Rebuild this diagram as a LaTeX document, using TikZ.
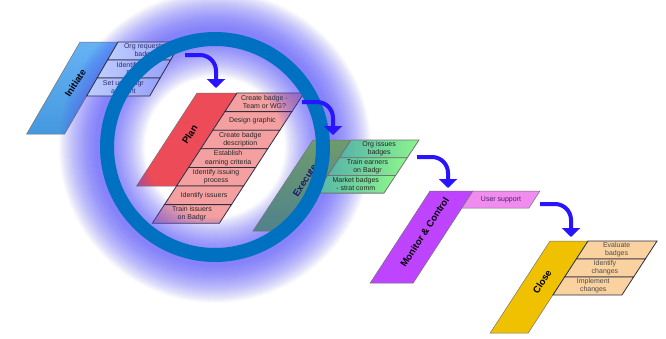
\documentclass[tikz,border=0pt]{standalone}
\usepackage{fontspec}
\setmainfont{Liberation Sans}
\usetikzlibrary{arrows.meta}

\definecolor{iniBig}{RGB}{75,165,242}
\definecolor{iniRowA}{RGB}{190,205,255}
\definecolor{iniRowB}{RGB}{150,160,250}
\definecolor{planBig}{RGB}{238,75,88}
\definecolor{planRow}{RGB}{245,160,160}
\definecolor{exeTop}{RGB}{110,155,110}
\definecolor{exeBot}{RGB}{80,130,140}
\definecolor{exeRowA}{RGB}{85,180,170}
\definecolor{exeRowB}{RGB}{140,245,140}
\definecolor{monBig}{RGB}{190,68,255}
\definecolor{monRow}{RGB}{240,140,240}
\definecolor{cloBig}{RGB}{240,193,0}
\definecolor{cloRow}{RGB}{250,210,160}
\definecolor{glowc}{RGB}{85,80,250}
\definecolor{ringc}{RGB}{0,112,192}
\definecolor{flowc}{RGB}{40,20,255}
\definecolor{edgec}{RGB}{45,45,65}

% parallelogram: name, x, y (top-left), width, height, slant, fill style, text style, text
\newcommand\parabox[9]{%
  \path[#7] (#2,#3) -- ++(#4,0) -- ++({-(#6)*(#5)},#5) -- ++({-(#4)},0) -- cycle;
  \node[#8] (#1) at ({#2+(#4)/2-(#6)*(#5)/2},{#3+(#5)/2}) {#9};
}

\begin{document}
\begin{tikzpicture}[x=1pt,y=-1pt,
  bigbox/.style={draw=black!55,line width=0.5pt},
  rowbox/.style={draw=edgec,line width=0.8pt},
  rowtext/.style={font=\fontsize{7}{8.3}\selectfont,align=center,inner sep=0pt},
  bigtext/.style={font=\fontsize{9.5}{11}\selectfont\bfseries,inner sep=0pt,
    xshift=3pt,yshift=5pt,rotate=57},
  flow/.style={draw=flowc,line width=4pt,rounded corners=16pt,
    -{Triangle[width=18pt,length=9pt]}}]
\useasboundingbox (0,0) rectangle (666,338);
\fill[white] (0,0) rectangle (666,338);

% Initiate
\parabox{ini}{80}{42}{38}{92}{0.58}{bigbox,top color=iniBig!85!white,bottom color=iniBig!92!black}{bigtext}{Initiate}

% Plan
\parabox{plan}{197}{93}{40}{93}{0.65}{bigbox,fill=planBig}{bigtext}{Plan}
\parabox{plan1}{237}{93}{67}{18.6}{0.65}{rowbox,fill=planRow}{rowtext,text=black!85}{Create badge -\\Team or WG?}
\parabox{plan2}{224.91}{111.6}{67}{18.6}{0.65}{rowbox,fill=planRow}{rowtext,text=black!85}{Design graphic}
\parabox{plan3}{212.82}{130.2}{67}{18.6}{0.65}{rowbox,fill=planRow}{rowtext,text=black!85}{Create badge\\description}
\parabox{plan4}{200.73}{148.8}{67}{18.6}{0.65}{rowbox,fill=planRow}{rowtext,text=black!85}{Establish\\earning criteria}
\parabox{plan5}{188.64}{167.4}{67}{18.6}{0.65}{rowbox,fill=planRow}{rowtext,text=black!85}{Identify issuing\\process}
\parabox{plan6}{176.55}{186}{67}{18.6}{0.65}{rowbox,fill=planRow}{rowtext,text=black!85}{Identify issuers}
\parabox{plan7}{164.46}{204.6}{67}{18.6}{0.65}{rowbox,fill=planRow}{rowtext,text=black!85}{Train issuers\\on Badgr}

% soft glow around the ring: many faint strokes of growing width,
% centred a little outside the ring so it reaches further outward
\coordinate (ctr) at (215,147);
\foreach \w in {12,14,...,86}
  \draw[glowc,opacity=0.028,line width=\w pt] (ctr) circle[radius=113];

% Initiate tasks
\parabox{ini1}{118}{42}{63}{18}{0.58}{rowbox,left color=iniRowA,right color=iniRowB}{rowtext,text={rgb,255:red,45;green,45;blue,110}}{Org requests\\badge}
\parabox{ini2}{107.56}{60}{63}{18}{0.58}{rowbox,left color=iniRowA,right color=iniRowB}{rowtext,text={rgb,255:red,45;green,45;blue,110}}{Identify the\\POC}
\parabox{ini3}{97.12}{78}{63}{18}{0.58}{rowbox,left color=iniRowA,right color=iniRowB}{rowtext,text={rgb,255:red,45;green,45;blue,110}}{Set up Badgr\\account}

% Execute
\parabox{exe}{313}{140}{38}{91}{0.66}{bigbox,top color=exeTop,bottom color=exeBot}{bigtext,text={rgb,255:red,25;green,25;blue,100}}{Execute}
\parabox{exe1}{351}{140}{68}{17.7}{0.66}{rowbox,draw=black!55,left color=exeRowA,right color=exeRowB}{rowtext,text=black!85}{Org issues\\badges}
\parabox{exe2}{339.32}{157.7}{68}{17.7}{0.66}{rowbox,draw=black!55,left color=exeRowA,right color=exeRowB}{rowtext,text=black!85}{Train earners\\on Badgr}
\parabox{exe3}{327.64}{175.4}{68}{17.7}{0.66}{rowbox,draw=black!55,left color=exeRowA,right color=exeRowB}{rowtext,text=black!85}{Market badges\\- strat comm}

% Monitor & Control
\parabox{mon}{430}{191}{43}{92}{0.65}{bigbox,fill=monBig}{bigtext}{Monitor \& Control}
\parabox{mon1}{473}{191}{67}{17}{0.65}{bigbox,fill=monRow}{rowtext,text={rgb,255:red,70;green,30;blue,90}}{User support}

% Close
\parabox{clo}{550}{241}{38}{92}{0.65}{bigbox,fill=cloBig}{bigtext}{Close}
\parabox{clo1}{588}{241}{69}{18}{0.65}{rowbox,fill=cloRow}{rowtext,text=black!70}{Evaluate\\badges}
\parabox{clo2}{576.3}{259}{69}{18}{0.65}{rowbox,fill=cloRow}{rowtext,text=black!70}{Identify\\changes}
\parabox{clo3}{564.6}{277}{69}{18}{0.65}{rowbox,fill=cloRow}{rowtext,text=black!70}{Implement\\changes}

% ring
\draw[ringc,line width=14pt] (ctr) circle[radius=108];

% flow arrows between stages
\coordinate (a1s) at (185,55);  \coordinate (a1e) at (216,88);
\coordinate (a2s) at (302,102); \coordinate (a2e) at (333,135);
\coordinate (a3s) at (417,157); \coordinate (a3e) at (448,188);
\coordinate (a4s) at (540,204); \coordinate (a4e) at (571,237);
\draw[flow] (a1s) -| (a1e);
\draw[flow] (a2s) -| (a2e);
\draw[flow] (a3s) -| (a3e);
\draw[flow] (a4s) -| (a4e);
\end{tikzpicture}
\end{document}
